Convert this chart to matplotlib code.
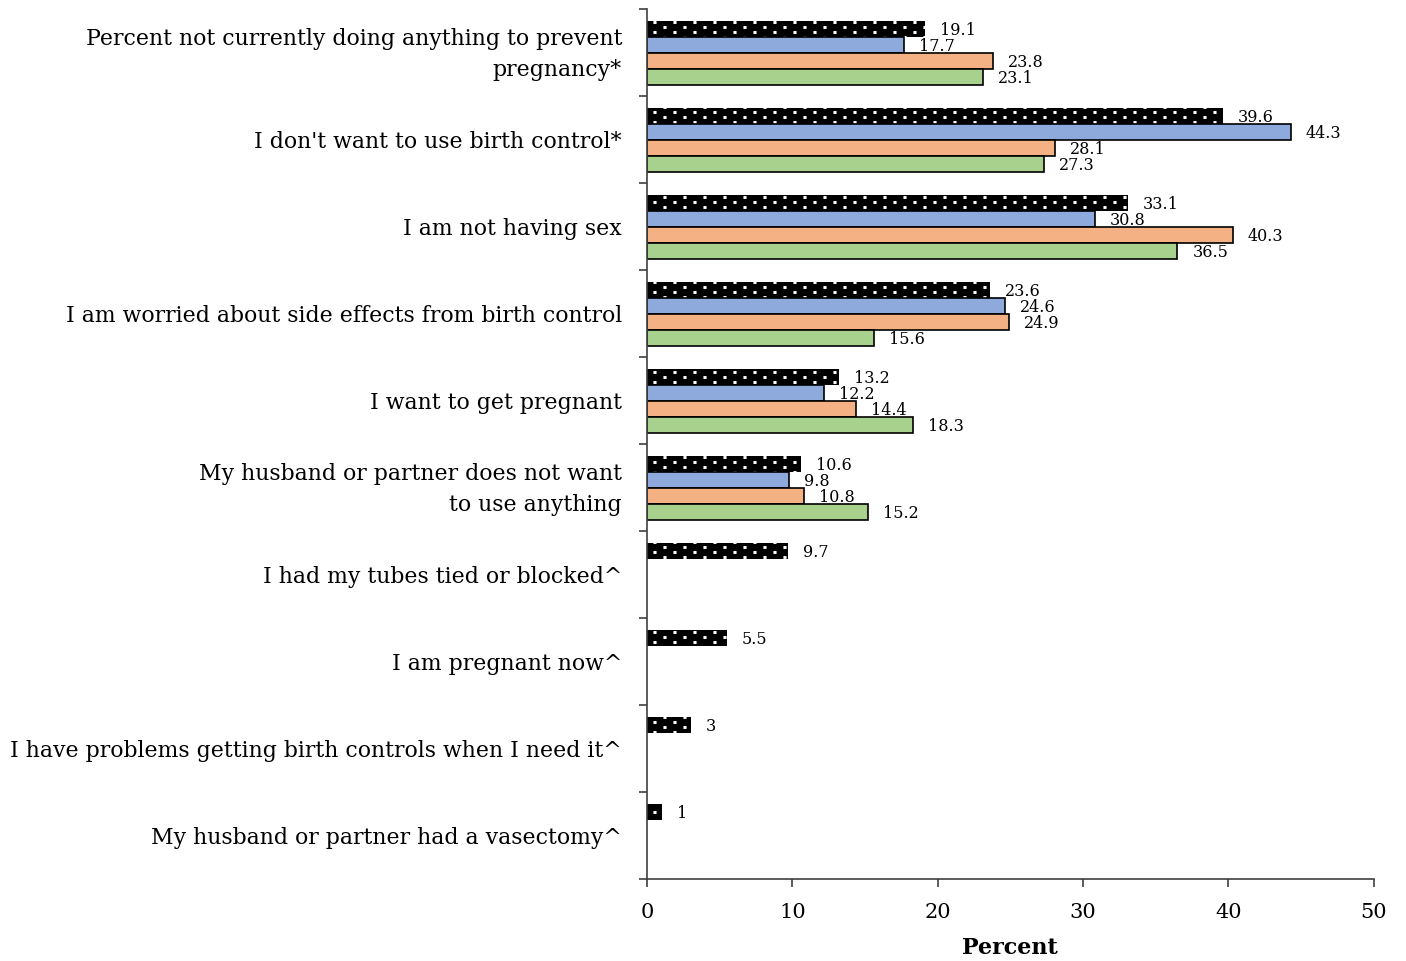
import numpy as np
import matplotlib
matplotlib.use("Agg")
import matplotlib.pyplot as plt
import matplotlib.hatch as mhatch
import matplotlib.transforms as mtransforms
from matplotlib.path import Path

# ---- data -------------------------------------------------------------
categories = [
    "Percent not currently doing anything to prevent\npregnancy*",
    "I don't want to use birth control*",
    "I am not having sex",
    "I am worried about side effects from birth control",
    "I want to get pregnant",
    "My husband or partner does not want\nto use anything",
    "I had my tubes tied or blocked^",
    "I am pregnant now^",
    "I have problems getting birth controls when I need it^",
    "My husband or partner had a vasectomy^",
]
series_all = [19.1, 39.6, 33.1, 23.6, 13.2, 10.6, 9.7, 5.5, 3, 1]
series_blue = [17.7, 44.3, 30.8, 24.6, 12.2, 9.8, None, None, None, None]
series_orange = [23.8, 28.1, 40.3, 24.9, 14.4, 10.8, None, None, None, None]
series_green = [23.1, 27.3, 36.5, 15.6, 18.3, 15.2, None, None, None, None]
x_ticks = [0, 10, 20, 30, 40, 50]


# ---- dotted screen fill for the first series ---------------------------
class DottedScreen(mhatch.HatchPatternBase):
    """Staggered grid of tiny squares, used for the '.' hatch."""
    cols = 5
    rows = 20
    half = 0.011

    def __init__(self, hatch, density):
        self.active = hatch.count('.') > 0
        self.num_vertices = 5 * self.cols * self.rows if self.active else 0

    def set_vertices_and_codes(self, vertices, codes):
        k = 0
        h = self.half
        for r in range(self.rows):
            y = (r + 0.5) / self.rows
            shift = 0.5 / self.cols if r % 2 else 0.0
            for c in range(self.cols):
                x = (c + 0.25) / self.cols + shift
                sq = [(x - h, y - h), (x + h, y - h), (x + h, y + h),
                      (x - h, y + h), (x - h, y - h)]
                vertices[k:k + 5] = sq
                codes[k:k + 5] = [Path.MOVETO, Path.LINETO, Path.LINETO,
                                  Path.LINETO, Path.CLOSEPOLY]
                k += 5


mhatch._hatch_types = [t for t in mhatch._hatch_types
                       if t is not mhatch.SmallFilledCircles] + [DottedScreen]

plt.rcParams['font.family'] = ['DejaVu Serif']
plt.rcParams['hatch.linewidth'] = 0.6

fig = plt.figure(figsize=(14.06, 9.61), dpi=100)
ax = fig.add_axes([0.4602, 0.0853, 0.5168, 0.9053])

n = len(categories)
pos = np.arange(n)
bh = 0.184
offsets = [-1.5 * bh, -0.5 * bh, 0.5 * bh, 1.5 * bh]

styles = [
    dict(color="black", edgecolor="white", hatch=".", linewidth=0),
    dict(color="#8EA9DB", edgecolor="black", linewidth=1.2),
    dict(color="#F4B183", edgecolor="black", linewidth=1.2),
    dict(color="#A9D18E", edgecolor="black", linewidth=1.2),
]
all_series = [series_all, series_blue, series_orange, series_green]

for vals, off, st in zip(all_series, offsets, styles):
    idx = [i for i, v in enumerate(vals) if v is not None]
    v = [vals[i] for i in idx]
    y = pos[idx] + off
    ax.barh(y, v, height=bh, **st)
    for yy, vv in zip(y, v):
        txt = f"{vv:g}"
        ax.annotate(txt, (vv, yy), xytext=(15, -2), textcoords="offset pixels",
                    ha="left", va="center", fontsize=11.5)

ax.set_xlim(0, 50)
ax.set_ylim(n - 0.5, -0.5)
ax.set_xticks(x_ticks)
ax.tick_params(axis="x", direction="out", length=6, width=1.2, color="#404040",
               labelsize=15, pad=11)

ax.set_yticks(pos)
ax.set_yticklabels(categories, fontsize=15.8, linespacing=1.55, va="center")
ax.tick_params(axis="y", which="major", length=0, pad=18)
ax.set_yticks(np.arange(n + 1) - 0.5, minor=True)
ax.tick_params(axis="y", which="minor", direction="out", length=6, width=1.2,
               color="#404040")

# nudge category labels slightly downward
shift = mtransforms.ScaledTranslation(0, -2 / 100, fig.dpi_scale_trans)
for lbl in ax.get_yticklabels():
    lbl.set_transform(lbl.get_transform() + shift)

for s in ("top", "right"):
    ax.spines[s].set_visible(False)
for s in ("left", "bottom"):
    ax.spines[s].set_color("#404040")
    ax.spines[s].set_linewidth(1.2)

ax.set_xlabel("Percent", fontsize=16, fontweight="bold", labelpad=11)

fig.savefig("out.png", dpi=100)
